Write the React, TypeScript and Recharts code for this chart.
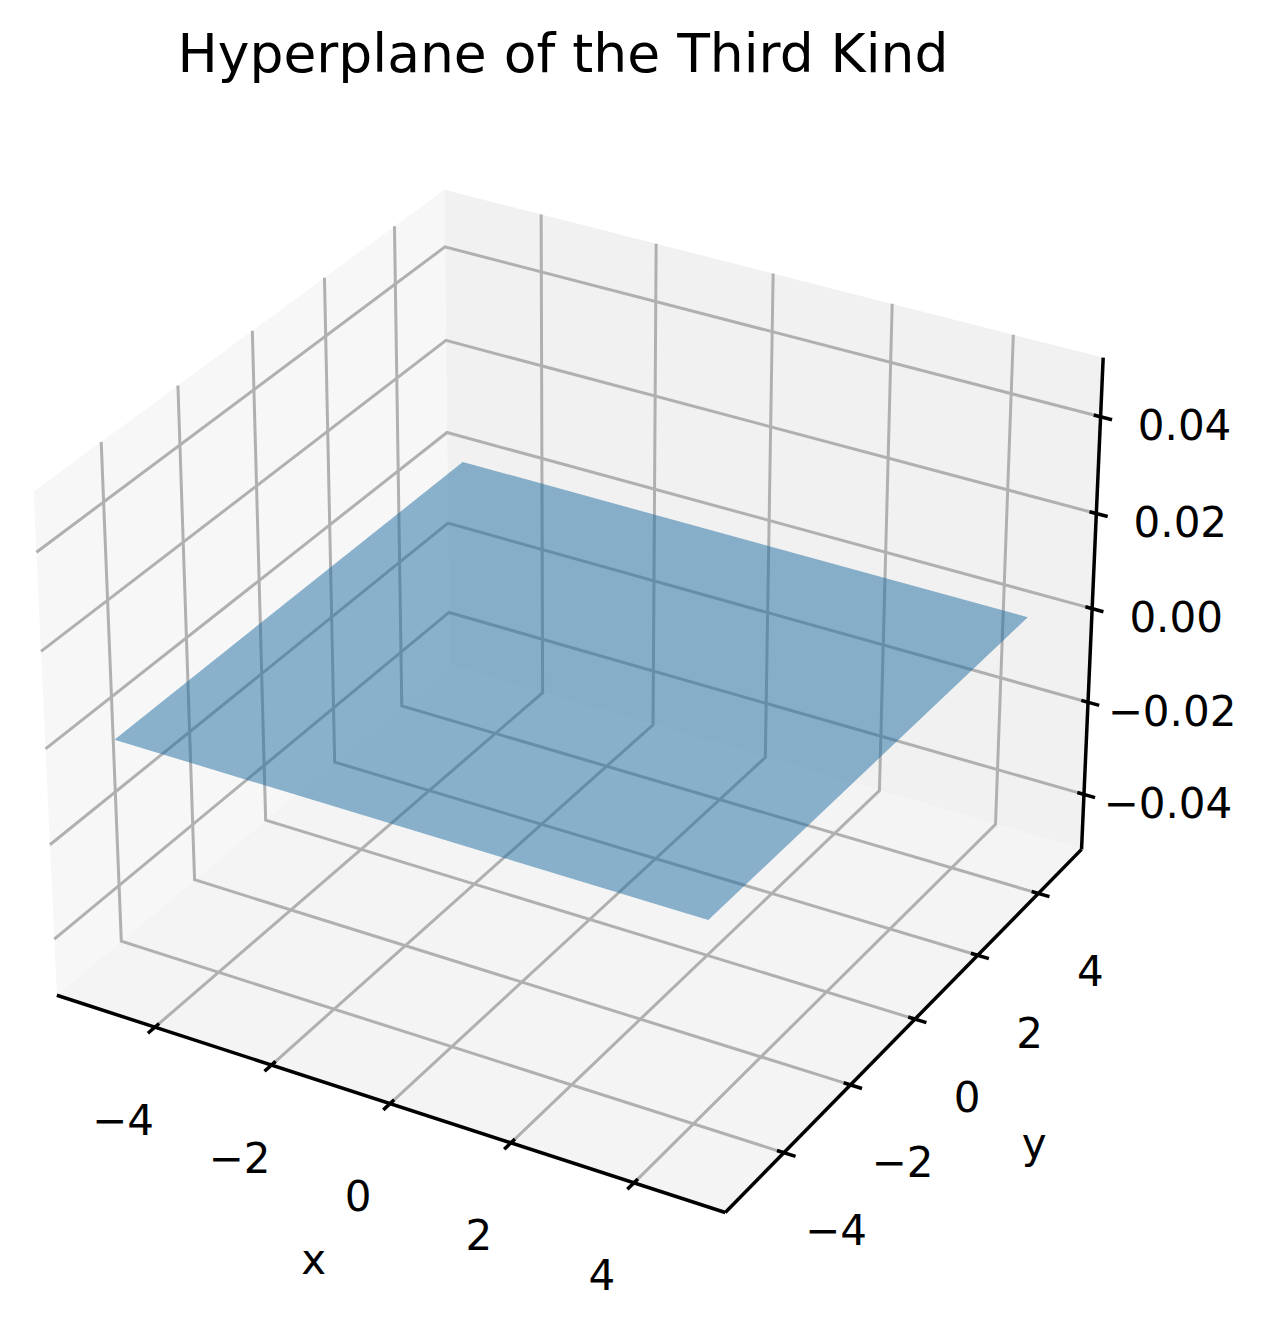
import React from "react";
import { ComposedChart, XAxis, YAxis, Area, Scatter } from "recharts";

const WIDTH = 1267;
const HEIGHT = 1323;

// ticks and their labels
const X_TICKS = [-4, -2, 0, 2, 4];
const Y_TICKS = [-4, -2, 0, 2, 4];
const Z_TICKS = [-0.04, -0.02, 0, 0.02, 0.04];
const X_TICK_LABELS = ["−4", "−2", "0", "2", "4"];
const Y_TICK_LABELS = ["−4", "−2", "0", "2", "4"];
const Z_TICK_LABELS = ["−0.04", "−0.02", "0.00", "0.02", "0.04"];

// the plotted surface: z = 0 over the x / y grid
const SURFACE_X = [-5, 4.75];
const SURFACE_Y = [-5, 4.75];
const SURFACE_Z = 0;

// axis limits, pane padding included
const X_LIM = [-5.7109, 5.4609];
const Y_LIM = [-5.7109, 5.4609];
const Z_LIM = [-0.052083, 0.052083];

// camera (matplotlib defaults)
const ELEV = 30;
const AZIM = -60;
const DIST = 10;
const BOX = [1.142857, 1.142857, 0.857143];

// projected view -> pixel
const CENTER_X = 578.3;
const CENTER_Y = 677.5;
const SCALE = 6702;

const FONT = "'DejaVu Sans', Verdana, sans-serif";
const GRID = "#b0b0b0";

type P = { px: number; py: number };

const rad = (d: number) => (d * Math.PI) / 180;
const cross = (a: number[], b: number[]) => [
  a[1] * b[2] - a[2] * b[1],
  a[2] * b[0] - a[0] * b[2],
  a[0] * b[1] - a[1] * b[0],
];
const dot = (a: number[], b: number[]) => a[0] * b[0] + a[1] * b[1] + a[2] * b[2];

const VIEW_W = [
  Math.cos(rad(ELEV)) * Math.cos(rad(AZIM)),
  Math.cos(rad(ELEV)) * Math.sin(rad(AZIM)),
  Math.sin(rad(ELEV)),
];
const uRaw = cross([0, 0, 1], VIEW_W);
const uLen = Math.hypot(uRaw[0], uRaw[1], uRaw[2]);
const VIEW_U = uRaw.map((c) => c / uLen);
const VIEW_V = cross(VIEW_W, VIEW_U);

function project(x: number, y: number, z: number): P {
  const p = [
    BOX[0] * ((x - X_LIM[0]) / (X_LIM[1] - X_LIM[0]) - 0.5),
    BOX[1] * ((y - Y_LIM[0]) / (Y_LIM[1] - Y_LIM[0]) - 0.5),
    BOX[2] * ((z - Z_LIM[0]) / (Z_LIM[1] - Z_LIM[0]) - 0.5),
  ];
  const d = DIST - dot(VIEW_W, p);
  return { px: dot(VIEW_U, p) / d, py: dot(VIEW_V, p) / d };
}

// convex polygon -> [low, high] band per vertex x, so an Area can fill it
function toBand(poly: P[]) {
  const xs = Array.from(new Set(poly.map((p) => p.px))).sort((a, b) => a - b);
  return xs.map((x) => {
    const ys: number[] = [];
    poly.forEach((p, i) => {
      const q = poly[(i + 1) % poly.length];
      if (x < Math.min(p.px, q.px) - 1e-12 || x > Math.max(p.px, q.px) + 1e-12) return;
      if (Math.abs(q.px - p.px) < 1e-12) {
        ys.push(p.py, q.py);
        return;
      }
      const t = (x - p.px) / (q.px - p.px);
      ys.push(p.py + t * (q.py - p.py));
    });
    return { px: x, band: [Math.min(...ys), Math.max(...ys)] };
  });
}

const [x0, x1] = X_LIM;
const [y0, y1] = Y_LIM;
const [z0, z1] = Z_LIM;
const dX = (x1 - x0) / 12;
const dY = (y1 - y0) / 12;
const TICK_OUT = 0.2;
const TICK_IN = 0.12;

const panes = [
  {
    key: "left",
    fill: "#f7f7f7",
    poly: [project(x0, y0, z0), project(x0, y1, z0), project(x0, y1, z1), project(x0, y0, z1)],
  },
  {
    key: "back",
    fill: "#f1f1f1",
    poly: [project(x0, y1, z0), project(x1, y1, z0), project(x1, y1, z1), project(x0, y1, z1)],
  },
  {
    key: "floor",
    fill: "#f4f4f4",
    poly: [project(x0, y0, z0), project(x1, y0, z0), project(x1, y1, z0), project(x0, y1, z0)],
  },
];

// closed outline of the surface (drawn after the grid so the grid shows through)
const surface = [
  project(SURFACE_X[0], SURFACE_Y[0], SURFACE_Z),
  project(SURFACE_X[1], SURFACE_Y[0], SURFACE_Z),
  project(SURFACE_X[1], SURFACE_Y[1], SURFACE_Z),
  project(SURFACE_X[0], SURFACE_Y[1], SURFACE_Z),
  project(SURFACE_X[0], SURFACE_Y[0], SURFACE_Z),
];

const gridLines: P[][] = [
  ...X_TICKS.map((x) => [project(x, y0, z0), project(x, y1, z0), project(x, y1, z1)]),
  ...Y_TICKS.map((y) => [project(x1, y, z0), project(x0, y, z0), project(x0, y, z1)]),
  ...Z_TICKS.map((z) => [project(x0, y0, z), project(x0, y1, z), project(x1, y1, z)]),
];

const axisLines: P[][] = [
  [project(x0, y0, z0), project(x1, y0, z0)],
  [project(x1, y0, z0), project(x1, y1, z0)],
  [project(x1, y1, z0), project(x1, y1, z1)],
];

const tickMarks: P[][] = [
  ...X_TICKS.map((x) => [project(x, y0 - TICK_OUT * dY, z0), project(x, y0 + TICK_IN * dY, z0)]),
  ...Y_TICKS.map((y) => [project(x1 + TICK_OUT * dX, y, z0), project(x1 - TICK_IN * dX, y, z0)]),
  ...Z_TICKS.map((z) => [project(x1 + TICK_OUT * dX, y1, z), project(x1 - TICK_IN * dX, y1, z)]),
];

const labels = [
  ...X_TICKS.map((x, i) => ({ ...project(x, y0, z0), label: X_TICK_LABELS[i], dx: -32, dy: 93 })),
  ...Y_TICKS.map((y, i) => ({ ...project(x1, y, z0), label: Y_TICK_LABELS[i], dx: 52, dy: 78 })),
  ...Z_TICKS.map((z, i) => ({ ...project(x1, y1, z), label: Z_TICK_LABELS[i], dx: 84, dy: 9 })),
  { ...project((x0 + x1) / 2, y0, z0), label: "x", dx: -69, dy: 158 },
  { ...project(x1, (y0 + y1) / 2, z0), label: "y", dx: 123, dy: 120 },
];

const noDot = () => <g />;

const LabelText = (props: any) => {
  const { cx, cy, payload } = props;
  return (
    <text
      x={cx + payload.dx}
      y={cy + payload.dy}
      textAnchor="middle"
      dominantBaseline="central"
      fontFamily={FONT}
      fontSize={42}
      fill="#000"
    >
      {payload.label}
    </text>
  );
};

export default function App() {
  return (
    <div
      style={{
        position: "absolute",
        left: 0,
        top: 0,
        width: WIDTH,
        height: HEIGHT,
        background: "#fff",
      }}
    >
      <div
        style={{
          position: "absolute",
          left: 0,
          top: 27,
          width: 1126,
          textAlign: "center",
          fontFamily: FONT,
          fontSize: 53.5,
          lineHeight: "53.5px",
          color: "#000",
        }}
      >
        Hyperplane of the Third Kind
      </div>
      <ComposedChart width={WIDTH} height={HEIGHT} margin={{ top: 0, right: 0, bottom: 0, left: 0 }}>
        <XAxis
          hide
          type="number"
          dataKey="px"
          domain={[-CENTER_X / SCALE, (WIDTH - CENTER_X) / SCALE]}
          allowDataOverflow
        />
        <YAxis
          hide
          type="number"
          dataKey="py"
          domain={[(CENTER_Y - HEIGHT) / SCALE, CENTER_Y / SCALE]}
          allowDataOverflow
        />
        {panes.map((p) => (
          <Area
            key={p.key}
            data={toBand(p.poly)}
            dataKey="band"
            type="linear"
            fill={p.fill}
            fillOpacity={1}
            stroke="none"
            dot={false}
            activeDot={false}
            isAnimationActive={false}
          />
        ))}
        {gridLines.map((seg, i) => (
          <Scatter
            key={`grid-${i}`}
            data={seg}
            shape={noDot}
            line={{ stroke: GRID, strokeWidth: 3 }}
            lineType="joint"
            isAnimationActive={false}
          />
        ))}
        {axisLines.map((seg, i) => (
          <Scatter
            key={`axis-${i}`}
            data={seg}
            shape={noDot}
            line={{ stroke: "#000", strokeWidth: 3.5 }}
            lineType="joint"
            isAnimationActive={false}
          />
        ))}
        {tickMarks.map((seg, i) => (
          <Scatter
            key={`tick-${i}`}
            data={seg}
            shape={noDot}
            line={{ stroke: "#000", strokeWidth: 3.5 }}
            lineType="joint"
            isAnimationActive={false}
          />
        ))}
        <Scatter
          data={surface}
          shape={noDot}
          line={{ stroke: "none", fill: "#1c6ba2", fillOpacity: 0.5 }}
          lineType="joint"
          isAnimationActive={false}
        />
        <Scatter data={labels} shape={LabelText} isAnimationActive={false} />
      </ComposedChart>
    </div>
  );
}
